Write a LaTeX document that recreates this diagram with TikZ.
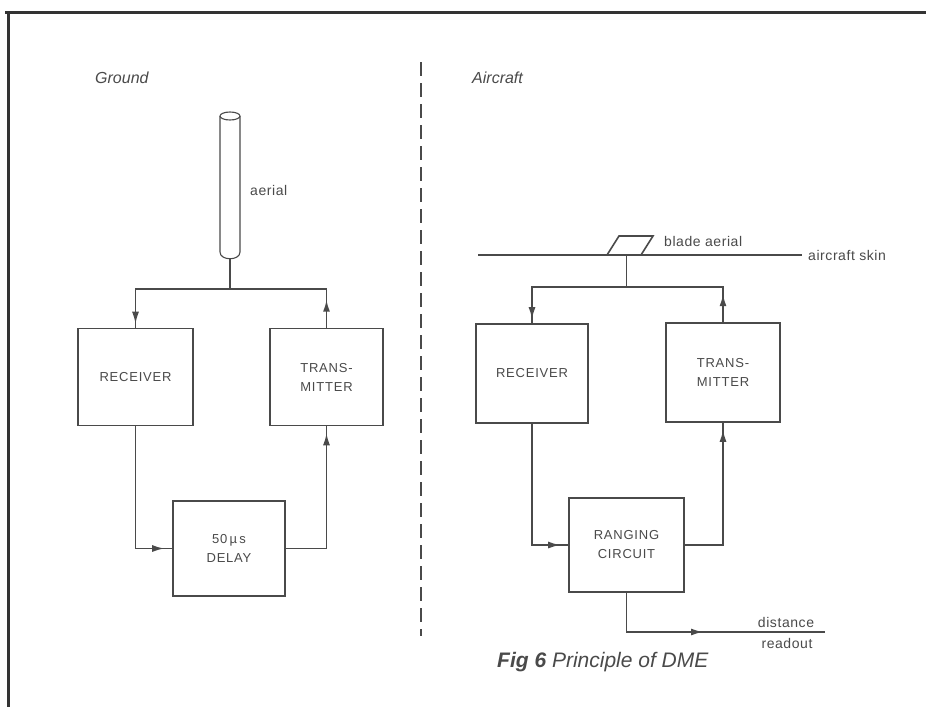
\documentclass[tikz,border=0pt]{standalone}
\usepackage{fontspec}
\setmainfont{Liberation Sans}
\newfontfamily\boxfont[LetterSpace=6]{Liberation Sans}
\newfontfamily\lblfont[LetterSpace=4]{Liberation Sans}
\usetikzlibrary{arrows.meta}
\definecolor{ink}{HTML}{4A4A4A}
\definecolor{frame}{HTML}{333333}
\begin{document}
\begin{tikzpicture}[x=1pt,y=-1pt,
  line/.style={draw=ink, line width=1.6pt},
  box/.style={draw=ink, line width=1.6pt, align=center, inner sep=0pt,
    font=\boxfont\fontsize{13}{19}\selectfont, text=ink},
  tip/.style={draw=ink, line width=1.6pt, -{Latex[length=12pt,width=7pt]}},
  lbl/.style={text=ink, inner sep=0pt, font=\lblfont\fontsize{14}{17}\selectfont},
  head/.style={text=ink, inner sep=0pt, font=\itshape\fontsize{16}{18}\selectfont},
]
\path[use as bounding box, fill=white] (0,0) rectangle (926,707);
% frame
\draw[frame, line width=3pt] (5,12) -- (926,12);
\draw[frame, line width=3pt] (8,12) -- (8,707);
% divider
\draw[ink, line width=1.4pt, dash pattern=on 14pt off 7pt] (421,62) -- (421,636);
% headings
\node[head, anchor=west] (hg) at (95,78) {Ground};
\node[head, anchor=west] (ha) at (472,78) {Aircraft};

% ---------- Ground ----------
\node[box, minimum width=115pt, minimum height=97pt] (grx) at (135.5,377) {RECEIVER};
\node[box, minimum width=113pt, minimum height=97pt] (gtx) at (326.5,377) {TRANS-\\MITTER};
\node[box, minimum width=112pt, minimum height=95pt] (dly) at (229,548.5) {50\,µ\,s\\DELAY};
% aerial tube
\draw[ink, line width=1.1pt] (220,116) -- (220,252) .. controls (220,261) and (240,261) .. (240,252) -- (240,116);
\draw[ink, line width=1.1pt] (230,116) ellipse [x radius=10pt, y radius=4pt];
\coordinate (gfeed) at (230,258);
\coordinate (gtop) at (230,289);
\node[lbl, anchor=west] (gae) at (250,190) {aerial};
\draw[line] (gfeed) -- (gtop);
\draw[line] (grx.north) |- (gtop) -| (gtx.north);
\draw[tip] ([yshift=19pt]grx.north) -- ([yshift=4pt]grx.north);
\draw[tip] ([yshift=12pt]gtx.north) -- ([yshift=28pt]gtx.north);
\draw[line] (grx.south) |- (dly.west);
\draw[line] (dly.east) -| (gtx.south);
\draw[tip] ([xshift=-27pt]dly.west) -- ([xshift=-8pt]dly.west);
\draw[tip] ([yshift=-22pt]gtx.south) -- ([yshift=-7pt]gtx.south);

% ---------- Aircraft ----------
\node[box, minimum width=112pt, minimum height=99pt] (arx) at (532,373.5) {RECEIVER};
\node[box, minimum width=114pt, minimum height=99pt] (atx) at (723,372.5) {TRANS-\\MITTER};
\node[box, minimum width=115pt, minimum height=94pt] (rng) at (626.5,545) {RANGING\\CIRCUIT};
% skin and blade aerial
\coordinate (skinL) at (478,255);
\coordinate (skinR) at (802,255);
\draw[line] (skinL) -- (skinR);
\draw[line] (607,255) -- (619,236) -- (653,236) -- (641,255);
\node[lbl, anchor=west] (bae) at (664,241) {blade aerial};
\node[lbl, anchor=west] (ask) at (808,255) {aircraft skin};
\coordinate (afeed) at (626.5,255);
\coordinate (atop) at (626.5,287);
\draw[line] (afeed) -- (atop);
\draw[line] (arx.north) |- (atop) -| (atx.north);
\draw[tip] ([yshift=19pt]arx.north) -- ([yshift=4pt]arx.north);
\draw[tip] ([yshift=12pt]atx.north) -- ([yshift=28pt]atx.north);
\draw[line] (arx.south) |- (rng.west);
\draw[line] (rng.east) -| (atx.south);
\draw[tip] ([xshift=-27pt]rng.west) -- ([xshift=-8pt]rng.west);
\draw[tip] ([yshift=-22pt]atx.south) -- ([yshift=-7pt]atx.south);
% readout
\coordinate (rdcorner) at (626.5,632);
\coordinate (rdend) at (825,632);
\draw[line] (rng.south) -- (rdcorner) -- (rdend);
\draw[tip] (683,632) -- (703,632);
\node[lbl] (dist) at (786,622) {distance};
\node[lbl] (rdo) at (787,643) {readout};

% caption
\node[text=ink, inner sep=0pt, anchor=west] (cap) at (497,662)
  {\fontsize{21}{24}\selectfont\bfseries\itshape Fig 6 \mdseries Principle of DME};
\end{tikzpicture}
\end{document}
